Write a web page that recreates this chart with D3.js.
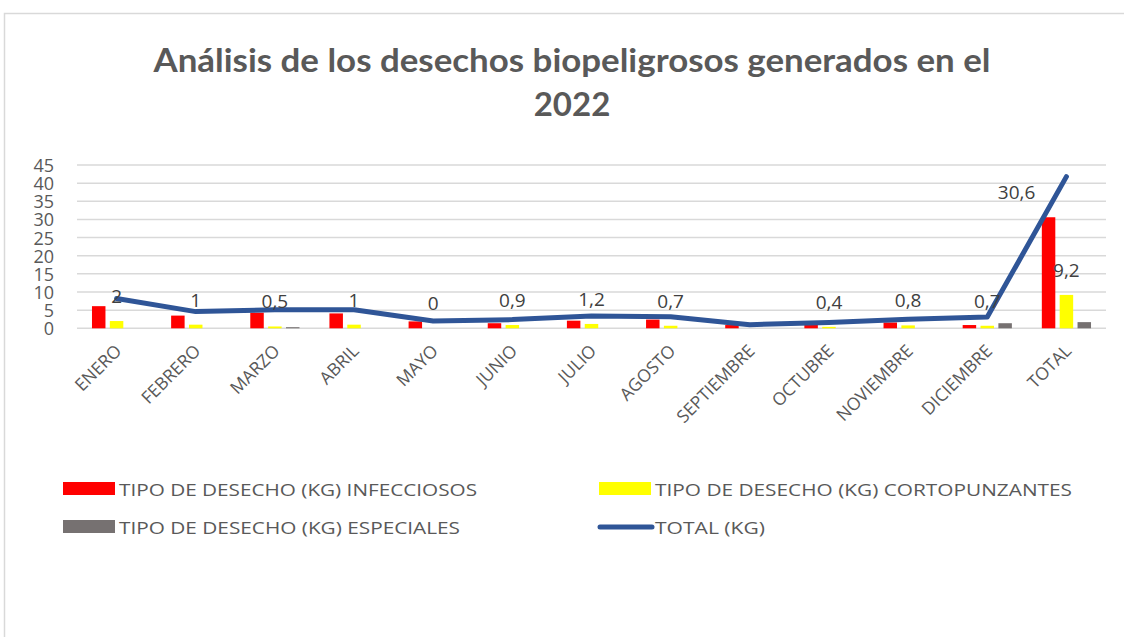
<!DOCTYPE html>
<html>
<head>
<meta charset="utf-8">
<script src="https://cdn.jsdelivr.net/npm/d3@7"></script>
<style>
  html, body { margin: 0; padding: 0; background: #ffffff; }
  svg { display: block; }
</style>
</head>
<body>
<svg id="chart" width="1124" height="637"></svg>
<script>
// ---- data ----
const categories = ["ENERO","FEBRERO","MARZO","ABRIL","MAYO","JUNIO","JULIO","AGOSTO","SEPTIEMBRE","OCTUBRE","NOVIEMBRE","DICIEMBRE","TOTAL"];
const infecciosos    = [6.1, 3.5, 4.3, 4.1, 1.9, 1.4, 2.1, 2.4, 0.9, 1.0, 1.6, 0.9, 30.6];
const cortopunzantes = [2, 1, 0.5, 1, 0, 0.9, 1.2, 0.7, null, 0.4, 0.8, 0.7, 9.2];
const especiales     = [0, 0, 0.3, 0, 0, 0, 0, 0, 0, 0, 0, 1.4, 1.7];
const totalKg        = [8.2, 4.6, 5.1, 5.1, 2.0, 2.4, 3.4, 3.2, 1.0, 1.6, 2.5, 3.1, 41.8];
const yTicks = [0, 5, 10, 15, 20, 25, 30, 35, 40, 45];
const seriesNames = ["TIPO DE DESECHO (KG) INFECCIOSOS", "TIPO DE DESECHO (KG) CORTOPUNZANTES", "TIPO DE DESECHO (KG) ESPECIALES"];
const lineName = "TOTAL (KG)";
const titleLines = ["Análisis de los desechos biopeligrosos generados en el", "2022"];

const colors = ["#FF0000", "#FFFF00", "#767171"];
const lineColor = "#2F5597";
const textColor = "#595959";

const svg = d3.select("#chart");

// frame
svg.append("path")
  .attr("d", "M4.5,640 L4.5,13.5 L1130,13.5")
  .attr("fill", "none").attr("stroke", "#d9d9d9").attr("stroke-width", 1.5);

// title
const title = svg.append("text").attr("text-anchor", "middle")
  .attr("font-family", "Lato, 'Open Sans', sans-serif").attr("font-weight", "bold")
  .attr("font-size", 33).attr("fill", textColor);
title.append("tspan").attr("x", 572).attr("y", 72).text(titleLines[0])
  .attr("textLength", 837).attr("lengthAdjust", "spacingAndGlyphs");
title.append("tspan").attr("x", 572).attr("y", 116).text(titleLines[1]);

// scales
const x = d3.scaleBand().domain(categories).range([77, 1106]).padding(0);
const y = d3.scaleLinear().domain([0, 45]).range([328.3, 165]);
const x1 = d3.scaleBand().domain([0, 1, 2]).range([-24.6, 24.6]).paddingInner(0.245);

// gridlines
svg.append("g").selectAll("line").data(yTicks).join("line")
  .attr("x1", 77).attr("x2", 1106)
  .attr("y1", d => y(d)).attr("y2", d => y(d))
  .attr("stroke", "#d9d9d9").attr("stroke-width", 1.5);

// y axis labels
const yAxis = d3.axisLeft(y).tickValues(yTicks).tickSize(0).tickPadding(0);
const gy = svg.append("g").attr("transform", "translate(54,0)").call(yAxis);
gy.select(".domain").remove();
gy.selectAll("text").attr("font-family", "'Open Sans', sans-serif").attr("font-size", 18)
  .attr("fill", textColor).attr("dy", "0.36em");

// x axis labels
const xAxis = d3.axisBottom(x).tickSize(0).tickPadding(0);
const gx = svg.append("g").attr("transform", "translate(0,328)").call(xAxis);
gx.select(".domain").remove();
gx.selectAll("text")
  .attr("font-family", "'Open Sans', sans-serif").attr("font-size", 17.5).attr("fill", textColor)
  .attr("text-anchor", "end").attr("dy", 0).attr("y", 0)
  .attr("transform", "translate(6,24) rotate(-45)");

// bars
const allSeries = [infecciosos, cortopunzantes, especiales];
const barData = [];
allSeries.forEach((arr, s) => arr.forEach((v, i) => { if (v !== null) barData.push({s, i, v}); }));
svg.append("g").selectAll("rect").data(barData).join("rect")
  .attr("x", d => x(categories[d.i]) + x.bandwidth() / 2 + x1(d.s))
  .attr("width", x1.bandwidth())
  .attr("y", d => y(d.v))
  .attr("height", d => y(0) - y(d.v))
  .attr("fill", d => colors[d.s]);

// line
const line = d3.line()
  .x((d, i) => x(categories[i]) + x.bandwidth() / 2)
  .y(d => y(d));
svg.append("path").datum(totalKg)
  .attr("d", line).attr("fill", "none")
  .attr("stroke", lineColor).attr("stroke-width", 5)
  .attr("stroke-linejoin", "round").attr("stroke-linecap", "round");

// data labels
const fmt = v => String(v).replace(".", ",");
const labelG = svg.append("g").attr("font-family", "'Open Sans', sans-serif")
  .attr("font-size", 19).attr("fill", "#404040").attr("text-anchor", "middle");
labelG.selectAll("text.c").data(cortopunzantes.map((v, i) => ({v, i})).filter(d => d.v !== null))
  .join("text").attr("class", "c")
  .attr("x", d => x(categories[d.i]) + x.bandwidth() / 2 + x1(1) + x1.bandwidth() / 2)
  .attr("y", d => y(d.v) - 18)
  .text(d => fmt(d.v));
const last = infecciosos.length - 1;
labelG.append("text")
  .attr("x", x(categories[last]) + x.bandwidth() / 2 + x1(0) + x1.bandwidth() / 2 - 32)
  .attr("y", y(infecciosos[last]) - 18)
  .text(fmt(infecciosos[last]));

// legend
const legend = svg.append("g").attr("font-family", "'Open Sans', sans-serif")
  .attr("font-size", 17).attr("fill", textColor);
const legendItems = [
  {name: seriesNames[0], type: "rect", color: colors[0], x: 63, y: 489, w: 358},
  {name: seriesNames[1], type: "rect", color: colors[1], x: 599, y: 489, w: 417},
  {name: seriesNames[2], type: "rect", color: colors[2], x: 63, y: 527, w: 341},
  {name: lineName, type: "line", color: lineColor, x: 599, y: 527, w: 110}
];
legendItems.forEach(it => {
  if (it.type === "rect") {
    legend.append("rect").attr("x", it.x).attr("y", it.y - 7).attr("width", 52).attr("height", 13)
      .attr("fill", it.color);
  } else {
    legend.append("line").attr("x1", it.x + 1).attr("x2", it.x + 53).attr("y1", it.y).attr("y2", it.y)
      .attr("stroke", it.color).attr("stroke-width", 5).attr("stroke-linecap", "round");
  }
  legend.append("text").attr("x", it.x + 56).attr("y", it.y + 6.5).text(it.name)
    .attr("textLength", it.w).attr("lengthAdjust", "spacingAndGlyphs");
});
</script>
</body>
</html>
